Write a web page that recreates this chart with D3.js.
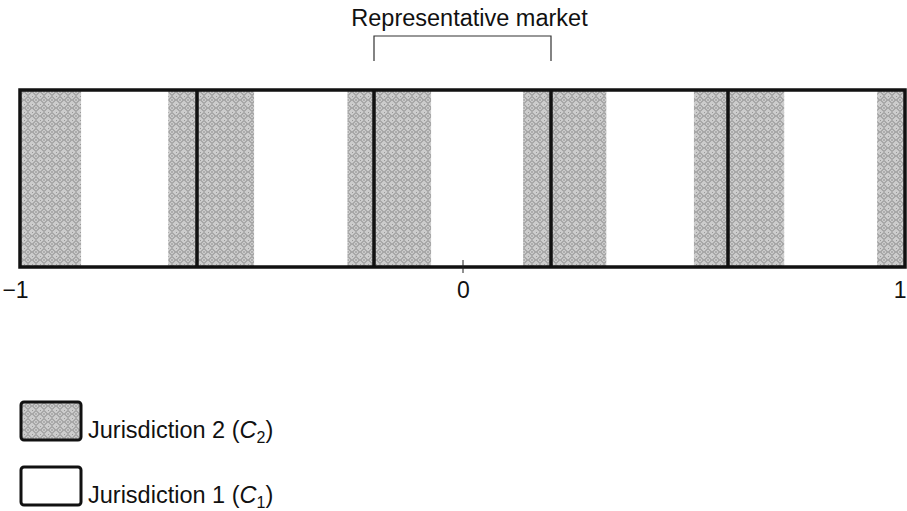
<!DOCTYPE html>
<html>
<head>
<meta charset="utf-8">
<script src="https://cdn.jsdelivr.net/npm/d3@7"></script>
<style>
  body { margin: 0; background: #fff; }
  svg { display: block; font-family: "Liberation Sans", Arial, sans-serif; }
</style>
</head>
<body>
<svg id="chart" width="907" height="511"></svg>
<script>
// market boundaries on the unit line
var marketBounds = [-1, -0.6, -0.2, 0.2, 0.6, 1];
// stretches that belong to jurisdiction 2 (shaded)
var c2Start = [-1, -0.665, -0.26, 0.137, 0.523, 0.937];
var c2End   = [-0.862, -0.471, -0.071, 0.325, 0.727, 1];
var tickValues = [-1, 0, 1];
var tickLabels = ["\u22121", "0", "1"];
var representative = [-0.2, 0.2];
var legendNames = ["Jurisdiction 2", "Jurisdiction 1"];
var legendSubs = ["2", "1"];

var svg = d3.select("#chart");
var x = d3.scaleLinear().domain([-1, 1]).range([20, 905]);
var stripTop = 90, stripBottom = 267;

// dithered grey fill
var defs = svg.append("defs");
var pat = defs.append("pattern")
  .attr("id", "dither")
  .attr("patternUnits", "userSpaceOnUse")
  .attr("width", 8).attr("height", 8);
pat.append("rect").attr("width", 8).attr("height", 8).attr("fill", "#cccccc");
pat.append("path")
  .attr("d", "M4,0.5 L7.5,4 L4,7.5 L0.5,4 Z")
  .attr("fill", "none").attr("stroke", "#7a7a7a").attr("stroke-width", 0.9);
pat.append("rect").attr("x", 3.5).attr("y", 3.5).attr("width", 1).attr("height", 1).attr("fill", "#555");
pat.append("rect").attr("x", 0).attr("y", 0).attr("width", 1).attr("height", 1).attr("fill", "#999");

// shaded bands
var bands = c2Start.map(function(s, i){ return {s: s, e: c2End[i]}; });
svg.selectAll("rect.band").data(bands).enter().append("rect")
  .attr("class", "band")
  .attr("x", function(d){ return x(d.s); })
  .attr("y", stripTop)
  .attr("width", function(d){ return x(d.e) - x(d.s); })
  .attr("height", stripBottom - stripTop)
  .attr("fill", "url(#dither)");

// outer frame
svg.append("rect")
  .attr("x", x(-1)).attr("y", stripTop)
  .attr("width", x(1) - x(-1)).attr("height", stripBottom - stripTop)
  .attr("fill", "none").attr("stroke", "#111").attr("stroke-width", 3.5);

// market dividers
svg.selectAll("line.div").data(marketBounds.slice(1, -1)).enter().append("line")
  .attr("x1", function(d){ return x(d); }).attr("x2", function(d){ return x(d); })
  .attr("y1", stripTop).attr("y2", stripBottom)
  .attr("stroke", "#111").attr("stroke-width", 3.5);

// axis ticks and labels
var axis = d3.axisBottom(x)
  .tickValues(tickValues)
  .tickSize(13)
  .tickPadding(9)
  .tickFormat(function(d, i){ return tickLabels[i]; });
var ag = svg.append("g").attr("transform", "translate(0,260)").call(axis);
ag.select(".domain").remove();
ag.selectAll(".tick line")
  .attr("stroke", "#222").attr("stroke-width", 1)
  .attr("opacity", function(d){ return d === 0 ? 1 : 0; });
ag.selectAll(".tick text")
  .attr("font-size", 23).attr("font-family", "Liberation Sans, Arial, sans-serif")
  .attr("fill", "#111")
  .attr("text-anchor", function(d){ return d === 1 ? "end" : "middle"; })
  .attr("dx", function(d){ return d === -1 ? -5 : d === 1 ? 1 : 0.5; });

// representative market bracket
var bx0 = x(representative[0]), bx1 = x(representative[1]);
svg.append("path")
  .attr("d", "M" + bx0 + ",61 V36 H" + bx1 + " V61")
  .attr("fill", "none").attr("stroke", "#333").attr("stroke-width", 1.2);
svg.append("text")
  .attr("x", (bx0 + bx1) / 2 + 7).attr("y", 26)
  .attr("text-anchor", "middle").attr("font-size", 23.5).attr("fill", "#111")
  .text("Representative market");

// legend
var legend = svg.selectAll("g.leg").data(legendNames).enter().append("g")
  .attr("class", "leg")
  .attr("transform", function(d, i){ return "translate(0," + (402 + i * 65) + ")"; });
legend.append("rect")
  .attr("x", 21).attr("y", 0).attr("width", 60).attr("height", 38).attr("rx", 3)
  .attr("fill", function(d, i){ return i === 0 ? "url(#dither)" : "#fff"; })
  .attr("stroke", "#111").attr("stroke-width", 3);
var lt = legend.append("text")
  .attr("x", 88).attr("y", 36).attr("font-size", 23.5).attr("fill", "#111");
lt.append("tspan").text(function(d){ return d + " ("; });
lt.append("tspan").attr("font-style", "italic").text("C");
lt.append("tspan").attr("font-size", 16).attr("dy", 5).text(function(d, i){ return legendSubs[i]; });
lt.append("tspan").attr("dy", -5).text(")");
</script>
</body>
</html>
